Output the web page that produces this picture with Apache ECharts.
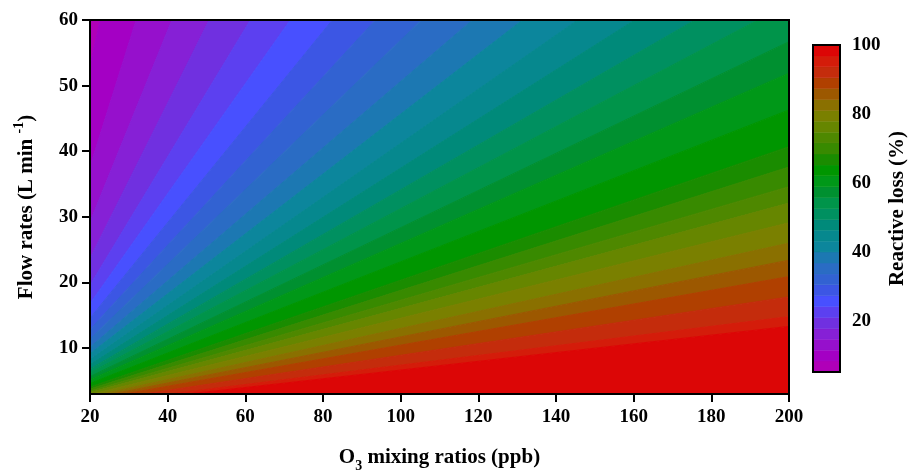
<!DOCTYPE html>
<html><head><meta charset="utf-8">
<script src="https://cdn.jsdelivr.net/npm/echarts@6/dist/echarts.min.js"></script>
<style>html,body{margin:0;padding:0;background:#fff}#c{width:914px;height:470px}</style>
</head><body><div id="c"></div>
<script>
// ---- data ----
const xRange = [20, 200];          // O3 mixing ratios (ppb)
const yRange = [3, 60];            // Flow rates (L min-1)
const xTicks = [20, 40, 60, 80, 100, 120, 140, 160, 180, 200];
const yTicks = [10, 20, 30, 40, 50, 60];
const cbTicks = [20, 40, 60, 80, 100];
// contour levels of reactive loss (%)
const levels = [5.2, 8.4, 11.5, 14.7, 17.8, 21.0, 24.2, 27.3, 30.5, 33.6, 36.8, 40.0, 43.1, 46.3, 49.4,
  52.6, 55.8, 58.9, 62.1, 65.2, 68.4, 71.6, 74.7, 77.9, 81.0, 84.2, 87.4, 90.5, 93.7, 96.8, 100];
const bandColors = ['#b000b8', '#a400c4', '#9610cc', '#8620d6', '#7030e0', '#5c40f0', '#4850ff', '#3c56e4',
  '#3262d2', '#2a6cc4', '#1c78b2', '#0c869c', '#06888e', '#008a7a', '#009060', '#00944a', '#009030',
  '#009818', '#009600', '#1a8c00', '#388a00', '#4e8800', '#668600', '#7a8000', '#8a7000', '#9c5800',
  '#b04000', '#c42c0c', '#d41c0a', '#dc0606'];
// where the contour boundaries meet the frame (contours are rays from the origin)
const topEdgeX = [22.6, 31.9, 41.1, 50.7, 61.3, 71.6, 82.4, 93.5, 105.4, 118.5, 131.4, 145.6, 160.3, 175.8, 192.0]; // at y = 60
const rightEdgeY = [56.7, 51.9, 46.3, 40.7, 37.6, 34.6, 32.1, 29.1, 26.0, 23.4, 20.9, 17.8, 14.8, 13.3];            // at x = 200

// ---- derived ----
const ratios = topEdgeX.map(x => x / yRange[1]).concat(rightEdgeY.map(y => xRange[1] / y));
const bandIdx = bandColors.map((c, i) => [i]);
const cbIdx = bandColors.map((c, i) => [0, i]);

function clip(poly, f) {
  const out = [];
  for (let i = 0; i < poly.length; i++) {
    const a = poly[i], b = poly[(i + 1) % poly.length];
    const fa = f(a), fb = f(b);
    if (fa >= 0) out.push(a);
    if ((fa >= 0) !== (fb >= 0)) {
      const t = fa / (fa - fb);
      out.push([a[0] + t * (b[0] - a[0]), a[1] + t * (b[1] - a[1])]);
    }
  }
  return out;
}

const FONT = 'Liberation Serif';
const lab = { fontFamily: FONT, fontWeight: 'bold', fontSize: 19, color: '#000' };
const axLine = { show: true, lineStyle: { color: '#000', width: 2 } };

const chart = echarts.init(document.getElementById('c'), null, { renderer: 'canvas' });
chart.setOption({
  backgroundColor: '#fff',
  animation: false,
  grid: [
    { left: 90, right: 125, top: 20, bottom: 76, containLabel: false, outerBoundsMode: 'none', show: true, borderColor: '#000', borderWidth: 2, backgroundColor: 'transparent', z: 10 },
    { left: 813, width: 27, top: 45, height: 327, containLabel: false, outerBoundsMode: 'none', show: true, borderColor: '#000', borderWidth: 2, backgroundColor: 'transparent', z: 10 }
  ],
  xAxis: [
    {
      type: 'value', gridIndex: 0, min: xRange[0], max: xRange[1], interval: 20,
      axisLine: axLine, axisTick: { show: true, inside: false, length: 8, lineStyle: { color: '#000', width: 2 } },
      axisLabel: Object.assign({ margin: 14 }, lab), splitLine: { show: false },
      name: '{b|O}{s|3}{b| mixing ratios (ppb)}', nameLocation: 'middle', nameGap: 50,
      nameTextStyle: { rich: {
        b: { fontFamily: FONT, fontWeight: 'bold', fontSize: 21, color: '#000', verticalAlign: 'bottom', lineHeight: 24 },
        s: { fontFamily: FONT, fontWeight: 'bold', fontSize: 14, color: '#000', verticalAlign: 'bottom', lineHeight: 24, padding: [0, 0, -5, 0] }
      } }
    },
    { type: 'value', gridIndex: 1, min: 0, max: 1, show: false }
  ],
  yAxis: [
    {
      type: 'value', gridIndex: 0, min: yRange[0], max: yRange[1],
      axisLine: axLine,
      axisTick: { show: true, inside: false, length: 8, customValues: yTicks, lineStyle: { color: '#000', width: 2 } },
      axisLabel: Object.assign({ margin: 12, customValues: yTicks }, lab), splitLine: { show: false },
      name: '{b|Flow rates (L min }{p|-1}{b|)}', nameLocation: 'middle', nameGap: 50, nameRotate: 90,
      nameTextStyle: { rich: {
        b: { fontFamily: FONT, fontWeight: 'bold', fontSize: 21, color: '#000', verticalAlign: 'top', lineHeight: 24 },
        p: { fontFamily: FONT, fontWeight: 'bold', fontSize: 14, color: '#000', verticalAlign: 'top', lineHeight: 24, padding: [-4, 0, 0, 0] }
      } }
    },
    {
      type: 'value', gridIndex: 1, position: 'right', min: levels[0], max: levels[levels.length - 1],
      axisLine: axLine,
      axisTick: { show: true, inside: false, length: 7, customValues: cbTicks, lineStyle: { color: '#000', width: 2 } },
      axisLabel: Object.assign({ margin: 12, customValues: cbTicks }, lab), splitLine: { show: false },
      name: 'Reactive loss (%)', nameLocation: 'middle', nameGap: 47, nameRotate: 90,
      nameTextStyle: { fontFamily: FONT, fontWeight: 'bold', fontSize: 21, color: '#000' }
    }
  ],
  series: [
    {
      type: 'custom', xAxisIndex: 0, yAxisIndex: 0, data: bandIdx, clip: true, silent: true,
      renderItem(params, api) {
        const i = api.value(0);
        const rLo = i === 0 ? 0 : ratios[i - 1];
        const rHi = i === bandColors.length - 1 ? Infinity : ratios[i];
        let poly = [[xRange[0], yRange[0]], [xRange[1], yRange[0]], [xRange[1], yRange[1]], [xRange[0], yRange[1]]];
        poly = clip(poly, p => p[0] - rLo * p[1]);
        if (isFinite(rHi)) poly = clip(poly, p => rHi * p[1] - p[0]);
        if (poly.length < 3) return null;
        const c = bandColors[i];
        return { type: 'polygon', shape: { points: poly.map(p => api.coord(p)) }, style: { fill: c, stroke: c, lineWidth: 1 } };
      }
    },
    {
      type: 'custom', xAxisIndex: 1, yAxisIndex: 1, data: cbIdx, silent: true,
      renderItem(params, api) {
        const i = api.value(1);
        const p0 = api.coord([0, levels[i]]);
        const p1 = api.coord([1, levels[i + 1]]);
        const c = bandColors[i];
        return { type: 'rect', shape: { x: p0[0], y: p1[1], width: p1[0] - p0[0], height: p0[1] - p1[1] }, style: { fill: c, stroke: c, lineWidth: 0.5 } };
      }
    }
  ]
});
</script></body></html>
